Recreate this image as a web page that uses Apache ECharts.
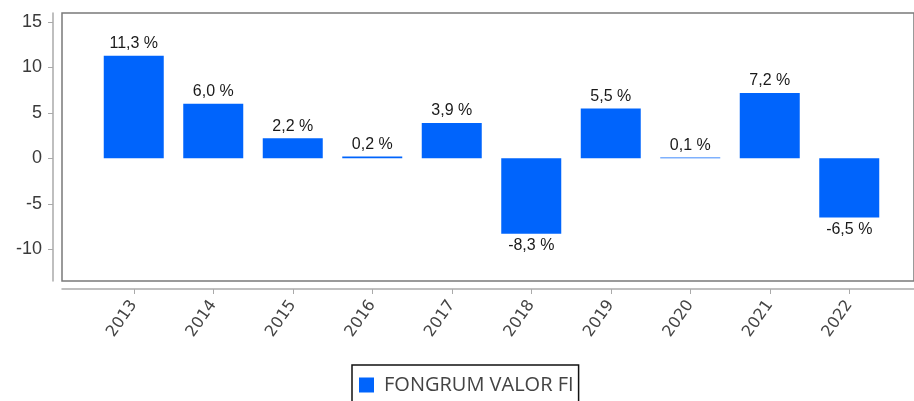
<!DOCTYPE html>
<html>
<head>
<meta charset="utf-8">
<script src="https://cdn.jsdelivr.net/npm/echarts@6/dist/echarts.min.js"></script>
<style>
  html, body { margin: 0; padding: 0; background: #fff; }
  #chart { width: 914px; height: 401px; }
</style>
</head>
<body>
<div id="chart"></div>
<script>
// rentabilidad anual
var years = ["2013", "2014", "2015", "2016", "2017", "2018", "2019", "2020", "2021", "2022"];
var returns = [11.3, 6.0, 2.2, 0.2, 3.9, -8.3, 5.5, 0.1, 7.2, -6.5];
var yTicks = [-10, -5, 0, 5, 10, 15];
var seriesName = "FONGRUM VALOR FI";

var chart = echarts.init(document.getElementById("chart"));

var barData = returns.map(function (v) {
  return {
    value: v,
    label: { position: v < 0 ? "bottom" : "top" }
  };
});

var option = {
  animation: false,
  grid: [
    { left: 94, right: 25, top: 13, bottom: 120 },
    // marco del área de dibujo
    { left: 62, right: -10, top: 13, bottom: 120, show: true, borderColor: "#7a7a7a", borderWidth: 1.5, z: 0 }
  ],
  legend: {
    data: [seriesName],
    left: 352,
    top: 365,
    icon: "rect",
    itemWidth: 15,
    itemHeight: 15,
    borderColor: "#111",
    borderWidth: 1.5,
    padding: [10, 5, 14, 7],
    textStyle: {
      fontFamily: "Open Sans",
      fontSize: 20,
      color: "#444",
      padding: [0, 0, 0, 5]
    }
  },
  xAxis: [
    {
      type: "category",
      gridIndex: 0,
      data: years,
      offset: 8,
      axisLine: { show: false, onZero: false },
      axisTick: { show: true, alignWithLabel: true, length: 5, lineStyle: { color: "#aaa" } },
      axisLabel: {
        rotate: 55,
        margin: 13,
        color: "#444",
        fontSize: 16,
        fontFamily: "DejaVu Sans"
      }
    },
    {
      type: "value",
      gridIndex: 1,
      min: 0,
      max: 1,
      offset: 8,
      axisLine: { show: true, onZero: false, lineStyle: { color: "#aaa", width: 1.5 } },
      axisTick: { show: false },
      axisLabel: { show: false },
      splitLine: { show: false }
    }
  ],
  yAxis: [
    {
      type: "value",
      gridIndex: 0,
      min: -13.5,
      max: 16,
      offset: 41,
      axisLine: { show: true, lineStyle: { color: "#aaa", width: 1.5 } },
      axisTick: { show: true, length: 5, customValues: yTicks, lineStyle: { color: "#aaa" } },
      axisLabel: {
        customValues: yTicks,
        margin: 11,
        color: "#3a3a3a",
        fontSize: 18,
        fontFamily: "Liberation Sans"
      },
      splitLine: { show: false }
    },
    {
      type: "value",
      gridIndex: 1,
      min: 0,
      max: 1,
      show: false
    }
  ],
  series: [
    {
      name: seriesName,
      type: "bar",
      xAxisIndex: 0,
      yAxisIndex: 0,
      data: barData,
      barWidth: 60,
      itemStyle: { color: "#0064fc" },
      label: {
        show: true,
        distance: 4,
        color: "#1a1a1a",
        fontSize: 16,
        fontFamily: "Liberation Sans",
        formatter: function (p) {
          return p.value.toFixed(1).replace(".", ",") + " %";
        }
      }
    }
  ]
};

chart.setOption(option);
</script>
</body>
</html>
